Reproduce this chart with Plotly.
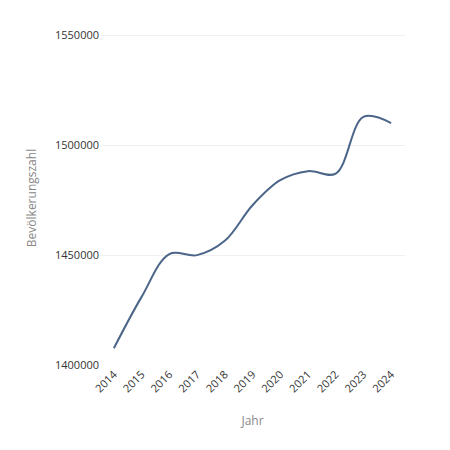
import plotly.graph_objects as go

jahre = [2014, 2015, 2016, 2017, 2018, 2019, 2020, 2021, 2022, 2023, 2024]
bevoelkerung = [1407600, 1431000, 1450500, 1450000, 1456500, 1472700,
                1484100, 1488200, 1487100, 1512900, 1510100]

fig = go.Figure(go.Scatter(
    x=jahre, y=bevoelkerung, mode='lines',
    line=dict(color='#4b6588', width=2, shape='spline', smoothing=1),
))

fig.update_layout(
    width=450, height=450,
    margin=dict(l=92, r=53, t=23, b=93),
    plot_bgcolor='white', paper_bgcolor='white',
    font=dict(family='Open Sans, sans-serif', size=11, color='#333'),
    showlegend=False,
)
fig.update_xaxes(
    title=dict(text='Jahr', font=dict(size=12, color='#888'), standoff=22),
    tickmode='array', tickvals=jahre, ticktext=[str(j) for j in jahre],
    tickangle=-45, range=[2013.5, 2024.5], showgrid=False, zeroline=False,
)
fig.update_yaxes(
    title=dict(text='Bevölkerungszahl', font=dict(size=12, color='#888')),
    range=[1400000, 1552000], tickvals=[1400000, 1450000, 1500000, 1550000],
    tickformat='d', gridcolor='#f0f0f0', zeroline=False,
)

fig.write_html("out.html")
